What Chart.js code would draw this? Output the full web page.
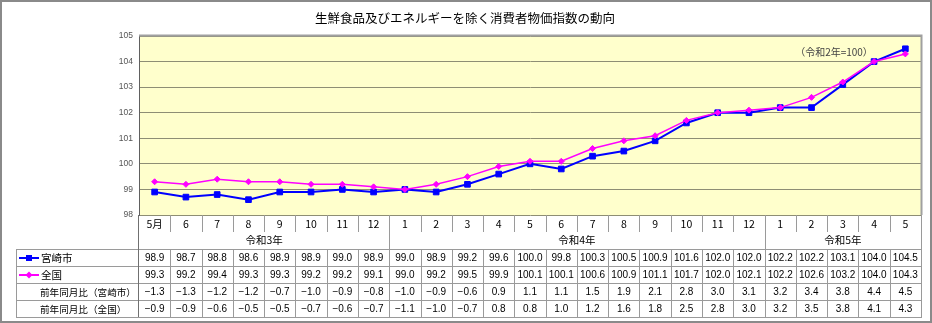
<!DOCTYPE html>
<html lang="ja">
<head>
<meta charset="utf-8">
<title>生鮮食品及びエネルギーを除く消費者物価指数の動向</title>
<script src="https://cdn.jsdelivr.net/npm/chart.js@4"></script>
<style>
  html, body { margin: 0; padding: 0; background: #fff; }
  #wrap { width: 932px; height: 323px; position: relative; }
</style>
</head>
<body>
<div id="wrap"><canvas id="cpi" width="932" height="323"></canvas></div>
<script>
// 月ラベル（令和3年5月〜令和5年5月）
const months = ['5月','6','7','8','9','10','11','12','1','2','3','4','5','6','7','8','9','10','11','12','1','2','3','4','5'];
// 年区分と各年の月数
const yearLabels = ['令和3年', '令和4年', '令和5年'];
const yearSpans = [8, 12, 5];
// 総合指数（生鮮食品及びエネルギーを除く、令和2年=100）
const miyazaki = [98.9,98.7,98.8,98.6,98.9,98.9,99.0,98.9,99.0,98.9,99.2,99.6,100.0,99.8,100.3,100.5,100.9,101.6,102.0,102.0,102.2,102.2,103.1,104.0,104.5];
const zenkoku  = [99.3,99.2,99.4,99.3,99.3,99.2,99.2,99.1,99.0,99.2,99.5,99.9,100.1,100.1,100.6,100.9,101.1,101.7,102.0,102.1,102.2,102.6,103.2,104.0,104.3];
// 前年同月比（%）
const yoyMiyazaki = [-1.3,-1.3,-1.2,-1.2,-0.7,-1.0,-0.9,-0.8,-1.0,-0.9,-0.6,0.9,1.1,1.1,1.5,1.9,2.1,2.8,3.0,3.1,3.2,3.4,3.8,4.4,4.5];
const yoyZenkoku  = [-0.9,-0.9,-0.6,-0.5,-0.5,-0.7,-0.6,-0.7,-1.1,-1.0,-0.7,0.8,0.8,1.0,1.2,1.6,1.8,2.5,2.8,3.0,3.2,3.5,3.8,4.1,4.3];
// 縦軸目盛
const yMin = 98, yMax = 105, yStep = 1;

const BLUE = '#0000ff', MAGENTA = '#ff00ff';
const JP = '"Noto Sans CJK JP", sans-serif';
const NUM = '"Liberation Sans", Arial, sans-serif';

const fmt = v => v.toFixed(1).replace('-', '\u2212');

// 背景・枠・表・注記の描画
const tablePlugin = {
  id: 'cpiTable',
  beforeDraw(chart) {
    const { ctx, chartArea: a } = chart;
    ctx.save();
    ctx.fillStyle = '#ffffff';
    ctx.fillRect(0, 0, chart.width, chart.height);
    ctx.fillStyle = '#ffffcc';
    ctx.fillRect(a.left, a.top, a.right - a.left, a.bottom - a.top);
    ctx.restore();
  },
  afterDraw(chart) {
    const { ctx, chartArea: a } = chart;
    const x = chart.scales.x;
    const colW = x.getPixelForValue(1) - x.getPixelForValue(0);
    const L = a.left, R = a.right;
    const edge = i => L + i * colW;
    const rowH = 17;
    const yMonth = a.bottom, yYear = yMonth + rowH, yData = yYear + rowH;
    const yEnd = yData + rowH * 4;
    const labelLeft = 16;

    ctx.save();
    // プロットエリアの枠
    ctx.strokeStyle = '#a0a0a0';
    ctx.lineWidth = 2;
    ctx.beginPath();
    ctx.moveTo(L, a.top - 0.5); ctx.lineTo(R + 0.5, a.top - 0.5); ctx.lineTo(R + 0.5, a.bottom);
    ctx.stroke();

    // 表の罫線
    ctx.strokeStyle = '#9a9a9a';
    ctx.lineWidth = 1;
    ctx.beginPath();
    const bounds = [];
    let acc = 0;
    yearSpans.forEach(s => { acc += s; bounds.push(acc); });
    for (let i = 1; i < months.length; i++) {
      const px = Math.round(edge(i)) + 0.5;
      const full = bounds.includes(i);
      ctx.moveTo(px, yMonth); ctx.lineTo(px, full ? yEnd : yMonth + rowH);
      if (!full) { ctx.moveTo(px, yData); ctx.lineTo(px, yEnd); }
    }
    ctx.moveTo(Math.round(R) + 0.5, yMonth); ctx.lineTo(Math.round(R) + 0.5, yEnd);
    for (let r = 0; r <= 4; r++) {
      const py = yData + r * rowH + 0.5;
      ctx.moveTo(labelLeft, py); ctx.lineTo(R + 1, py);
    }
    ctx.moveTo(labelLeft + 0.5, yData); ctx.lineTo(labelLeft + 0.5, yEnd);
    ctx.stroke();
    ctx.strokeStyle = '#707070';
    ctx.beginPath();
    ctx.moveTo(Math.round(L) - 0.5, yMonth); ctx.lineTo(Math.round(L) - 0.5, yEnd);
    ctx.stroke();

    // 月ラベル
    ctx.fillStyle = '#000';
    ctx.textAlign = 'center';
    ctx.textBaseline = 'middle';
    ctx.font = '10.5px ' + JP;
    months.forEach((m, i) => ctx.fillText(m, x.getPixelForValue(i), yMonth + rowH / 2 + 1));
    // 年ラベル
    let start = 0;
    yearSpans.forEach((s, k) => {
      const cx = (edge(start) + edge(start + s)) / 2;
      ctx.fillText(yearLabels[k], cx, yYear + rowH / 2);
      start += s;
    });

    // 数値行
    const rows = [miyazaki, zenkoku, yoyMiyazaki, yoyZenkoku];
    ctx.font = '10px ' + NUM;
    rows.forEach((vals, r) => {
      const cy = yData + r * rowH + rowH / 2 + 1;
      vals.forEach((v, i) => ctx.fillText(fmt(v), x.getPixelForValue(i), cy));
    });

    // 行見出し（凡例を兼ねる）
    ctx.textAlign = 'left';
    ctx.font = '10.5px ' + JP;
    const keys = [
      { text: '宮崎市', color: BLUE, marker: 'square' },
      { text: '全国', color: MAGENTA, marker: 'diamond' }
    ];
    keys.forEach((k, r) => {
      const cy = yData + r * rowH + rowH / 2 + 0.5;
      ctx.strokeStyle = k.color;
      ctx.fillStyle = k.color;
      ctx.lineWidth = 2;
      ctx.beginPath(); ctx.moveTo(19, cy); ctx.lineTo(39, cy); ctx.stroke();
      if (k.marker === 'square') {
        ctx.fillRect(26, cy - 3, 6, 6);
      } else {
        ctx.beginPath();
        ctx.moveTo(29, cy - 3.5); ctx.lineTo(32.5, cy); ctx.lineTo(29, cy + 3.5); ctx.lineTo(25.5, cy);
        ctx.closePath(); ctx.fill();
      }
      ctx.fillStyle = '#000';
      ctx.fillText(k.text, 41, cy + 0.5);
    });
    ctx.font = '9.6px ' + JP;
    ctx.fillText('前年同月比（宮崎市）', 40, yData + 2 * rowH + rowH / 2 + 1);
    ctx.fillText('前年同月比（全国）', 40, yData + 3 * rowH + rowH / 2 + 1);

    // 基準年の注記
    ctx.fillStyle = '#444';
    ctx.textAlign = 'center';
    ctx.font = '10px ' + JP;
    ctx.fillText('（令和2年=100）', 834, 52);

    // タイトル
    ctx.fillStyle = '#000';
    ctx.font = '12.5px ' + JP;
    ctx.fillText('生鮮食品及びエネルギーを除く消費者物価指数の動向', 465, 18);

    // 外枠
    ctx.strokeStyle = '#8a8a8a';
    ctx.lineWidth = 2;
    ctx.strokeRect(1, 1, chart.width - 2, chart.height - 2);
    ctx.restore();
  }
};

new Chart(document.getElementById('cpi'), {
  type: 'line',
  data: {
    labels: months,
    datasets: [
      {
        label: '宮崎市',
        data: miyazaki,
        borderColor: BLUE,
        backgroundColor: BLUE,
        borderWidth: 2,
        pointStyle: 'rect',
        pointRadius: 4,
        pointBorderWidth: 1,
        tension: 0,
        order: 1
      },
      {
        label: '全国',
        data: zenkoku,
        borderColor: MAGENTA,
        backgroundColor: MAGENTA,
        borderWidth: 1.5,
        pointStyle: 'rectRot',
        pointRadius: 3,
        pointBorderWidth: 1,
        tension: 0,
        order: 0
      }
    ]
  },
  options: {
    responsive: false,
    animation: false,
    devicePixelRatio: 1,
    layout: { padding: { top: 36, right: 11, bottom: 108, left: 0 } },
    plugins: {
      legend: { display: false },
      title: { display: false },
      tooltip: { enabled: false }
    },
    scales: {
      x: {
        type: 'category',
        display: false,
        offset: true
      },
      y: {
        min: yMin,
        max: yMax,
        afterFit(scale) { scale.width = 139; },
        ticks: {
          stepSize: yStep,
          padding: 6,
          color: '#555',
          font: { family: NUM, size: 8.5 }
        },
        grid: {
          color: '#8e8e74',
          lineWidth: 1,
          drawTicks: false
        },
        border: { display: true, color: '#606060', width: 1 }
      }
    }
  },
  plugins: [tablePlugin]
});
</script>
</body>
</html>
